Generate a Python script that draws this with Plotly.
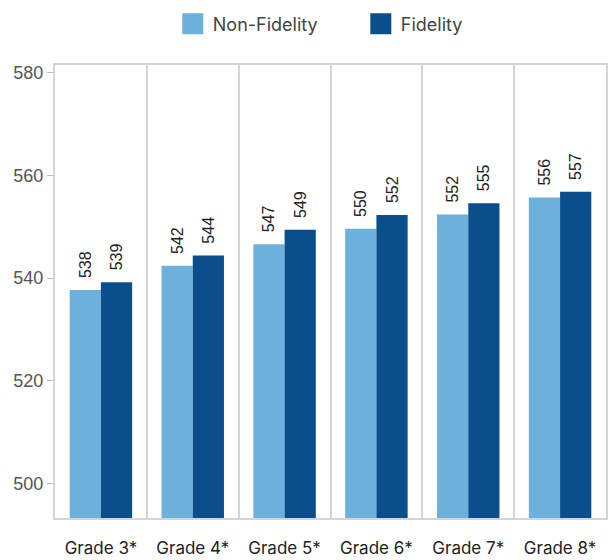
import plotly.graph_objects as go

grades = ["Grade 3*", "Grade 4*", "Grade 5*", "Grade 6*", "Grade 7*", "Grade 8*"]
non_fidelity = [537.7, 542.4, 546.6, 549.6, 552.4, 555.7]
fidelity = [539.2, 544.4, 549.4, 552.3, 554.6, 556.8]
series_names = ["Non-Fidelity", "Fidelity"]
colors = ["#6cb0dc", "#0a4f8c"]

label_font = dict(family="Liberation Sans, Arial", size=16, color="#222222")

fig = go.Figure()
for name, vals, col in zip(series_names, [non_fidelity, fidelity], colors):
    fig.add_trace(go.Bar(
        x=grades, y=vals, name=name, showlegend=False, legendgroup=name,
        marker=dict(color=col, line=dict(width=0)),
        texttemplate="\u00a0\u00a0%{y:.0f}", textposition="outside", textangle=-90,
        textfont=label_font, cliponaxis=False,
    ))
# legend entries with larger square swatches
for name, col in zip(series_names, colors):
    fig.add_trace(go.Scatter(
        x=[None], y=[None], mode="markers", name=name, legendgroup=name,
        marker=dict(symbol="square", size=22, color=col, line=dict(width=5, color=col)),
    ))

fig.update_layout(
    width=608, height=560,
    margin=dict(l=55, r=2, t=65, b=42, autoexpand=False),
    paper_bgcolor="white", plot_bgcolor="white",
    barmode="group", bargap=0.32, bargroupgap=0,
    uniformtext=dict(minsize=16, mode="show"),
    showlegend=True,
    legend=dict(orientation="h", x=0.555, xanchor="center", y=0.99, yanchor="top",
                yref="container", itemsizing="trace", entrywidth=143,
                font=dict(family="Inter, Open Sans", size=18, color="#444444"),
                traceorder="normal"),
    xaxis=dict(
        type="category", tickson="boundaries", showgrid=True, gridcolor="#d4d4d4", gridwidth=2,
        showline=True, linecolor="#d4d4d4", linewidth=2, mirror=True,
        ticks="", ticklabelstandoff=14,
        tickfont=dict(family="Inter, Open Sans", size=17, color="#222222"),
    ),
    yaxis=dict(
        range=[493.3, 581.5], tickvals=[500, 520, 540, 560, 580], showgrid=False,
        showline=True, linecolor="#d4d4d4", linewidth=2, mirror=True,
        ticks="outside", ticklen=6, tickcolor="#bbbbbb", zeroline=False,
        tickfont=dict(family="Liberation Sans, Arial", size=18, color="#555555"),
    ),
)

fig.write_html("out.html", config={"displayModeBar": False},
               post_script="document.body.style.margin='0';")
